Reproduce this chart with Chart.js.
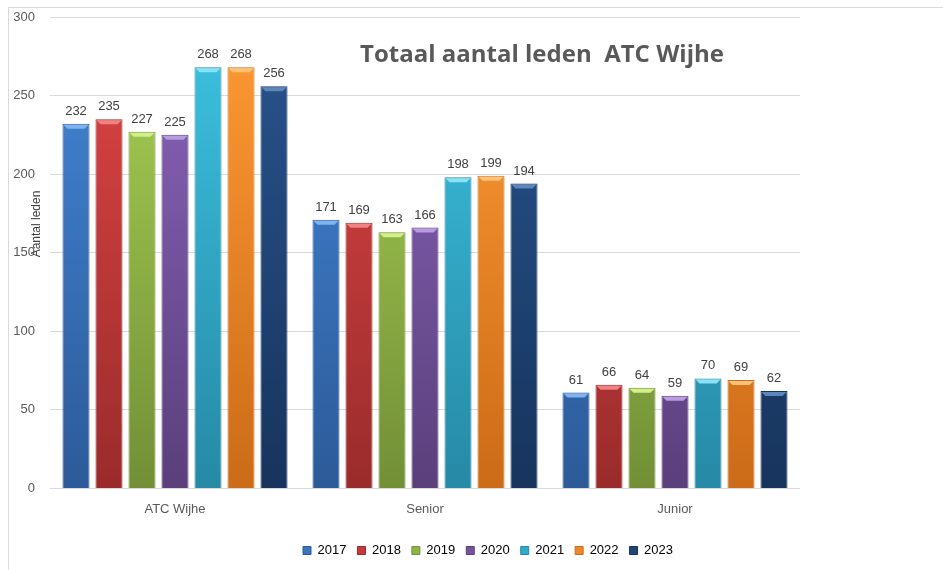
<!DOCTYPE html>
<html>
<head>
<meta charset="utf-8">
<script src="https://cdn.jsdelivr.net/npm/chart.js@4"></script>
<style>
    html, body { margin: 0; padding: 0; background: #ffffff; }
    #wrap { width: 943px; height: 570px; position: relative; }
</style>
</head>
<body>
<div id="wrap"><canvas id="leden-chart" width="943" height="570"></canvas></div>
<script>
// Chart data
const categories = ['ATC Wijhe', 'Senior', 'Junior'];
const years = ['2017', '2018', '2019', '2020', '2021', '2022', '2023'];
const values2017 = [232, 171, 61];
const values2018 = [235, 169, 66];
const values2019 = [227, 163, 64];
const values2020 = [225, 166, 59];
const values2021 = [268, 198, 70];
const values2022 = [268, 199, 69];
const values2023 = [256, 194, 62];
const yTicks = [0, 50, 100, 150, 200, 250, 300];

const seriesValues = [values2017, values2018, values2019, values2020, values2021, values2022, values2023];

// light (top), dark (bottom), mid (legend), bevel highlight
const palette = [
    { top: '#4487d8', bottom: '#2c5a98', mid: '#3a74be', bevel: '#7fb3ee' },
    { top: '#e04646', bottom: '#9a2b2b', mid: '#c83a3a', bevel: '#f08282' },
    { top: '#a9d155', bottom: '#728f36', mid: '#8fb444', bevel: '#d2ef8a' },
    { top: '#8b66bd', bottom: '#5a3f7b', mid: '#74539f', bevel: '#b99be2' },
    { top: '#3dc3e3', bottom: '#2689a5', mid: '#31a9c8', bevel: '#8ae2f6' },
    { top: '#ff9b34', bottom: '#cc6b18', mid: '#ee8726', bevel: '#ffc27a' },
    { top: '#29558f', bottom: '#17345c', mid: '#214577', bevel: '#5d86bd' }
];

function barGradient(i) {
    return function(context) {
        const chart = context.chart;
        const area = chart.chartArea;
        if (!area) {
            return palette[i].mid;
        }
        const g = chart.ctx.createLinearGradient(0, area.top, 0, area.bottom);
        g.addColorStop(0, palette[i].top);
        g.addColorStop(1, palette[i].bottom);
        return g;
    };
}

const datasets = years.map((year, i) => ({
    label: year,
    data: seriesValues[i],
    backgroundColor: barGradient(i),
    borderColor: palette[i].bottom,
    borderWidth: 1,
    categoryPercentage: 0.924,
    barPercentage: 0.82
}));

// Frame, title, axis title, bevels and value labels
const decorPlugin = {
    id: 'decor',
    afterLayout(chart) {
        // legend is centred on the outer frame, not on the canvas
        if (chart.legend) {
            chart.legend.left += 33;
        }
    },
    beforeDraw(chart) {
        const ctx = chart.ctx;
        ctx.save();
        ctx.strokeStyle = '#d9d9d9';
        ctx.lineWidth = 1;
        ctx.strokeRect(8.5, 7.5, 1200, 1200);
        ctx.restore();
    },
    afterDatasetsDraw(chart) {
        const ctx = chart.ctx;
        ctx.save();
        chart.data.datasets.forEach((ds, di) => {
            const meta = chart.getDatasetMeta(di);
            meta.data.forEach((bar, idx) => {
                const w = bar.width;
                const left = bar.x - w / 2;
                const bev = 5;
                // top bevel
                ctx.fillStyle = palette[di].bevel;
                ctx.beginPath();
                ctx.moveTo(left + 1, bar.y + 1);
                ctx.lineTo(left + w - 1, bar.y + 1);
                ctx.lineTo(left + w - 5, bar.y + bev);
                ctx.lineTo(left + 5, bar.y + bev);
                ctx.closePath();
                ctx.fill();
                // value label
                ctx.fillStyle = '#404040';
                ctx.font = '13px "Liberation Sans", sans-serif';
                ctx.textAlign = 'center';
                ctx.textBaseline = 'bottom';
                ctx.fillText(String(ds.data[idx]), bar.x, bar.y - 6);
            });
        });
        // chart title
        ctx.fillStyle = '#595959';
        ctx.font = 'bold 24px "Open Sans", sans-serif';
        ctx.textAlign = 'center';
        ctx.textBaseline = 'middle';
        ctx.fillText('Totaal aantal leden  ATC Wijhe', 542, 55);
        // y axis title
        ctx.translate(37, 224);
        ctx.rotate(-Math.PI / 2);
        ctx.fillStyle = '#404040';
        ctx.font = '12px "Liberation Sans", sans-serif';
        ctx.fillText('Aantal leden', 0, 0);
        ctx.restore();
    }
};

const ctx = document.getElementById('leden-chart').getContext('2d');
const chart = new Chart(ctx, {
    type: 'bar',
    data: {
        labels: categories,
        datasets: datasets
    },
    options: {
        responsive: false,
        animation: false,
        layout: {
            padding: { top: 17, right: 0, left: 0, bottom: 3 }
        },
        scales: {
            x: {
                grid: { display: false },
                border: { display: false },
                afterFit: function(scale) {
                    scale.height += 11;
                },
                ticks: {
                    color: '#595959',
                    font: { family: 'Liberation Sans', size: 13 },
                    padding: 5
                }
            },
            y: {
                min: 0,
                max: 300,
                afterFit: function(scale) {
                    scale.width = 50; // plot area starts at x=50
                },
                afterBuildTicks: function(scale) {
                    scale.ticks = yTicks.map(v => ({ value: v }));
                },
                grid: {
                    color: '#d9d9d9',
                    drawTicks: true,
                    tickLength: 15,
                    tickColor: 'rgba(0,0,0,0)'
                },
                border: { display: false },
                ticks: {
                    color: '#595959',
                    font: { family: 'Liberation Sans', size: 13 },
                    padding: 0
                }
            },
            // empty axis that keeps the free space on the right of the plot
            spacer: {
                position: 'right',
                display: true,
                grid: { display: false },
                border: { display: false },
                ticks: { display: false },
                afterFit: function(scale) {
                    scale.width = 143;
                }
            }
        },
        plugins: {
            legend: {
                position: 'bottom',
                labels: {
                    boxWidth: 8,
                    boxHeight: 8,
                    padding: 11,
                    color: '#595959',
                    font: { family: 'Liberation Sans', size: 13 },
                    generateLabels: function(chart) {
                        return chart.data.datasets.map((ds, i) => ({
                            text: ds.label,
                            fillStyle: palette[i].mid,
                            strokeStyle: palette[i].bottom,
                            lineWidth: 1,
                            hidden: false,
                            datasetIndex: i
                        }));
                    }
                }
            },
            tooltip: { enabled: false }
        }
    },
    plugins: [decorPlugin]
});
</script>
</body>
</html>
